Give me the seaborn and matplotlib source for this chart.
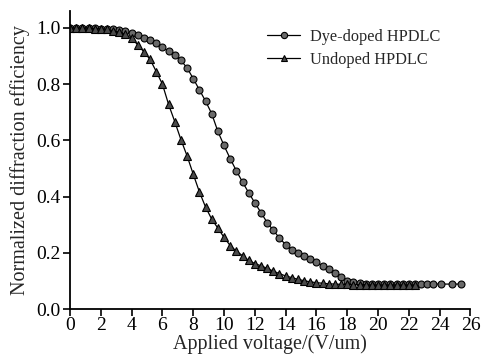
import numpy as np
import pandas as pd
import matplotlib
matplotlib.use("Agg")
import matplotlib.pyplot as plt
import seaborn as sns

# ---- data ----
undoped_x = [0.0, 0.4, 0.8, 1.2, 1.6, 2.0, 2.4, 2.8, 3.2, 3.6, 4.0, 4.4, 4.8, 5.2, 5.6,
             6.0, 6.4, 6.8, 7.2, 7.6, 8.0, 8.4, 8.8, 9.2, 9.6, 10.0, 10.4, 10.8, 11.2,
             11.6, 12.0, 12.4, 12.8, 13.2, 13.6, 14.0, 14.4, 14.8, 15.2, 15.6, 16.0,
             16.4, 16.8, 17.2, 17.6, 18.0, 18.4, 18.8, 19.2, 19.6, 20.0, 20.4, 20.8,
             21.2, 21.6, 22.0, 22.4]
undoped_y = [1.0, 1.0, 1.0, 1.0, 0.998, 0.997, 0.995, 0.99, 0.985, 0.977, 0.963, 0.94,
             0.915, 0.888, 0.845, 0.80, 0.728, 0.667, 0.603, 0.545, 0.48, 0.417, 0.363,
             0.32, 0.288, 0.255, 0.226, 0.206, 0.19, 0.173, 0.162, 0.154, 0.145, 0.135,
             0.126, 0.118, 0.112, 0.106, 0.101, 0.097, 0.094, 0.092, 0.090, 0.089,
             0.088, 0.088, 0.087, 0.087, 0.087, 0.086, 0.086, 0.086, 0.086, 0.086,
             0.086, 0.086, 0.086]

dye_x = [0.0, 0.4, 0.8, 1.2, 1.6, 2.0, 2.4, 2.8, 3.2, 3.6, 4.0, 4.4, 4.8, 5.2, 5.6,
         6.0, 6.4, 6.8, 7.2, 7.6, 8.0, 8.4, 8.8, 9.2, 9.6, 10.0, 10.4, 10.8, 11.2,
         11.6, 12.0, 12.4, 12.8, 13.2, 13.6, 14.0, 14.4, 14.8, 15.2, 15.6, 16.0,
         16.4, 16.8, 17.2, 17.6, 18.0, 18.4, 18.8, 19.2, 19.6, 20.0, 20.4, 20.8,
         21.2, 21.6, 22.0, 22.4, 22.8, 23.2, 23.6, 24.1, 24.8, 25.4]
dye_y = [1.0, 1.0, 1.0, 1.0, 0.999, 0.998, 0.997, 0.995, 0.992, 0.988, 0.983, 0.975,
         0.966, 0.956, 0.945, 0.931, 0.917, 0.903, 0.885, 0.858, 0.82, 0.78, 0.74,
         0.695, 0.632, 0.582, 0.535, 0.492, 0.452, 0.414, 0.378, 0.343, 0.308, 0.28,
         0.253, 0.229, 0.211, 0.198, 0.188, 0.177, 0.166, 0.155, 0.141, 0.127, 0.113,
         0.101, 0.095, 0.092, 0.091, 0.090, 0.090, 0.090, 0.090, 0.090, 0.089, 0.089,
         0.089, 0.089, 0.089, 0.089, 0.089, 0.089, 0.089]

x_ticks = [0, 2, 4, 6, 8, 10, 12, 14, 16, 18, 20, 22, 24, 26]
y_ticks = [0.0, 0.2, 0.4, 0.6, 0.8, 1.0]

df = pd.concat([
    pd.DataFrame({"V": dye_x, "eta": dye_y, "series": "Dye-doped HPDLC"}),
    pd.DataFrame({"V": undoped_x, "eta": undoped_y, "series": "Undoped HPDLC"}),
], ignore_index=True)

sns.set_style("ticks")
plt.rcParams["font.family"] = ["Liberation Serif", "DejaVu Serif"]

fig = plt.figure(figsize=(4.83, 3.59), dpi=100)
ax = fig.add_axes([0.145, 0.139, 0.829, 0.83])

sns.lineplot(data=df[df.series == "Dye-doped HPDLC"], x="V", y="eta", ax=ax,
             color="black", lw=0.9, marker="o", markersize=5,
             markerfacecolor="#6a6a6a", markeredgecolor="black", markeredgewidth=0.8,
             label="Dye-doped HPDLC")
sns.lineplot(data=df[df.series == "Undoped HPDLC"], x="V", y="eta", ax=ax,
             color="black", lw=0.9, marker="^", markersize=5.5,
             markerfacecolor="#4a4a4a", markeredgecolor="black", markeredgewidth=0.8,
             label="Undoped HPDLC")

ax.set_xlim(0, 26)
ax.set_ylim(0, 1.06)
ax.set_xticks(x_ticks)
ax.set_yticks(y_ticks)
ax.set_yticklabels([f"{v:.1f}" for v in y_ticks])
ax.tick_params(axis="both", direction="out", length=5, width=1.2, labelsize=14,
               colors="black")
ax.tick_params(axis="x", pad=1)
ax.tick_params(axis="y", pad=2)
for s in ["top", "right"]:
    ax.spines[s].set_visible(False)
for s in ["left", "bottom"]:
    ax.spines[s].set_linewidth(1.3)
    ax.spines[s].set_color("black")

ax.set_xlabel("Applied voltage/(V/um)", fontsize=14.5, labelpad=0)
ax.set_ylabel("Normalized diffraction efficiency", fontsize=14.5, labelpad=4)

leg = ax.legend(loc="upper right", bbox_to_anchor=(0.96, 0.99), frameon=False,
                fontsize=11.7, handlelength=2.0, markerscale=0.9, labelspacing=0.45,
                handletextpad=0.6)

fig.savefig("out.png", dpi=100)
